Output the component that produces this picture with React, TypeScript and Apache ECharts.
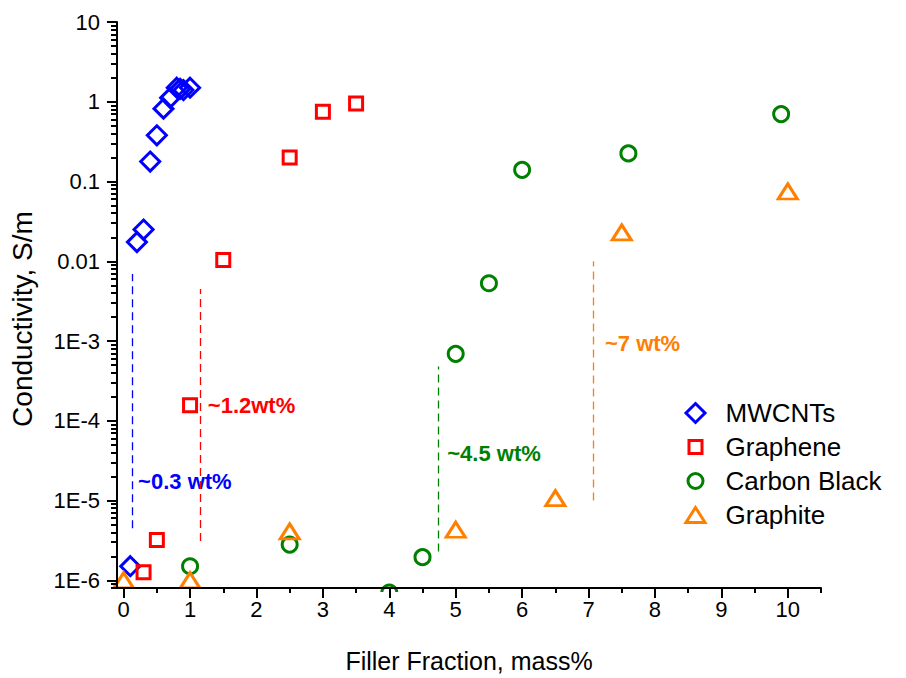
import React, { useEffect, useRef } from 'react';
import * as echarts from 'echarts';

const FONT = '"Liberation Sans", Arial, Helvetica, sans-serif';

// ---- data (x: mass%, y: conductivity S/m) ----
const mwcntX = [0.1, 0.2, 0.3, 0.4, 0.5, 0.6, 0.7, 0.8, 0.85, 0.9, 1.0];
const mwcntY = [1.5e-6, 0.0174, 0.025, 0.178, 0.38, 0.82, 1.12, 1.5, 1.45, 1.4, 1.5];

const grapheneX = [0.3, 0.5, 1.0, 1.5, 2.5, 3.0, 3.5];
const grapheneY = [1.26e-6, 3.2e-6, 1.57e-4, 0.0104, 0.2, 0.75, 0.95];

const carbonBlackX = [1.0, 2.5, 4.0, 4.5, 5.0, 5.5, 6.0, 7.6, 9.9];
const carbonBlackY = [1.5e-6, 2.8e-6, 7e-7, 1.95e-6, 6.9e-4, 5.3e-3, 0.14, 0.225, 0.7];

const graphiteX = [0, 1.0, 2.5, 5.0, 6.5, 7.5, 10];
const graphiteY = [1.0e-6, 1.0e-6, 4.1e-6, 4.3e-6, 1.07e-5, 0.023, 0.075];

// percolation threshold markers
const thrX = [0.13, 1.16, 4.74, 7.07];
const thrYLow = [4.5e-6, 3.1e-6, 2.3e-6, 1.0e-5];
const thrYHigh = [0.0069, 0.0045, 4.8e-4, 0.01];
const thrColors = ['#0000FF', '#FF0000', '#008000', '#FF8000'];

const annTexts = ['~0.3 wt%', '~1.2wt%', '~4.5 wt%', '~7 wt%'];
const annX = [0.21, 1.26, 4.865, 7.24];
const annY = [1.74e-5, 1.55e-4, 3.9e-5, 9.3e-4];

// axes
const xTicks = [0, 1, 2, 3, 4, 5, 6, 7, 8, 9, 10];
const xMinorTicks = [0.5, 1.5, 2.5, 3.5, 4.5, 5.5, 6.5, 7.5, 8.5, 9.5, 10.5];
const yTickValues = [1e-6, 1e-5, 1e-4, 1e-3, 0.01, 0.1, 1, 10];
const yTickLabels = ['1E-6', '1E-5', '1E-4', '1E-3', '0.01', '0.1', '1', '10'];
const X_MIN = -0.1;
const X_MAX = 10.5;
const Y_MIN_VAL = 8e-7;
const Y_MAX_VAL = 10;

const lg = (v: number) => Math.log10(v);

const Y_MIN = lg(Y_MIN_VAL);
const Y_MAX = lg(Y_MAX_VAL);

const yMinorTicks: number[] = [];
for (let n = -7; n <= 0; n++) {
  for (let k = 2; k <= 9; k++) {
    const v = lg(k) + n;
    if (v >= Y_MIN - 1e-9 && v <= Y_MAX + 1e-9) yMinorTicks.push(v);
  }
}

const ICON_DIAMOND = 'path://M0,0M22,22M11,1.5L20.5,11L11,20.5L1.5,11Z';
const ICON_SQUARE = 'path://M0,0M22,22M4.5,4.5L17.5,4.5L17.5,17.5L4.5,17.5Z';
const ICON_CIRCLE = 'path://M0,0M22,22M18.5,11A7.5,7.5,0,1,1,3.5,11A7.5,7.5,0,1,1,18.5,11Z';
const ICON_TRIANGLE = 'path://M0,0M22,22M11,3.5L20.5,18.5L1.5,18.5Z';

const axisLineStyle = { color: '#000', width: 2 };

function makeSeries(name: string, xs: number[], ys: number[], symbol: string, size: any, color: string) {
  return {
    name,
    type: 'scatter',
    symbol,
    symbolSize: size,
    clip: false,
    data: xs.map((x, i) => [x, lg(ys[i])]),
    itemStyle: { color: 'rgba(0,0,0,0)', borderColor: color, borderWidth: 3, opacity: 1 },
    emphasis: { disabled: true },
  };
}

export default function App() {
  const ref = useRef<HTMLDivElement>(null);

  useEffect(() => {
    if (!ref.current) return;
    const chart = echarts.init(ref.current, null, { renderer: 'svg' });

    const option: any = {
      animation: false,
      backgroundColor: '#fff',
      grid: { left: 115, right: 85, top: 22, bottom: 87, containLabel: false },
      xAxis: [
        {
          type: 'value',
          min: X_MIN,
          max: X_MAX,
          z: 10,
          axisLine: { show: true, onZero: false, lineStyle: axisLineStyle },
          axisTick: { show: true, customValues: xTicks, length: 10, lineStyle: axisLineStyle },
          axisLabel: {
            show: true,
            customValues: xTicks,
            margin: 10,
            fontSize: 22,
            color: '#000',
            fontFamily: FONT,
          },
          splitLine: { show: false },
          name: 'Filler Fraction, mass%',
          nameLocation: 'middle',
          nameGap: 60,
          nameTextStyle: { fontSize: 25, color: '#000', fontFamily: FONT },
        },
        {
          type: 'value',
          min: X_MIN,
          max: X_MAX,
          z: 10,
          position: 'bottom',
          axisLine: { show: false, onZero: false },
          axisTick: { show: true, customValues: xMinorTicks, length: 5, lineStyle: axisLineStyle },
          axisLabel: { show: false },
          splitLine: { show: false },
        },
      ],
      yAxis: [
        {
          type: 'value',
          min: Y_MIN,
          max: Y_MAX,
          z: 10,
          axisLine: { show: true, onZero: false, lineStyle: axisLineStyle },
          axisTick: { show: true, customValues: yTickValues.map(lg), length: 10, lineStyle: axisLineStyle },
          axisLabel: {
            show: true,
            customValues: yTickValues.map(lg),
            margin: 17,
            fontSize: 22,
            color: '#000',
            fontFamily: FONT,
            formatter: (v: number) => {
              const i = yTickValues.findIndex((t) => Math.abs(lg(t) - v) < 1e-6);
              return i >= 0 ? yTickLabels[i] : '';
            },
          },
          splitLine: { show: false },
          name: 'Conductivity, S/m',
          nameLocation: 'middle',
          nameGap: 81,
          nameTextStyle: { fontSize: 28, color: '#000', fontFamily: FONT, padding: [0, 28, 0, 0] },
        },
        {
          type: 'value',
          min: Y_MIN,
          max: Y_MAX,
          z: 10,
          position: 'left',
          axisLine: { show: false, onZero: false },
          axisTick: { show: true, customValues: yMinorTicks, length: 6, lineStyle: axisLineStyle },
          axisLabel: { show: false },
          splitLine: { show: false },
        },
      ],
      legend: {
        orient: 'vertical',
        left: 683,
        top: 398,
        padding: 0,
        itemGap: 4,
        itemWidth: 50,
        itemHeight: 22,
        selectedMode: false,
        itemStyle: { borderWidth: 3 },
        textStyle: { fontSize: 26, color: '#000', fontFamily: FONT, lineHeight: 30 },
        data: [
          { name: 'MWCNTs', icon: ICON_DIAMOND },
          { name: 'Graphene', icon: ICON_SQUARE },
          { name: 'Carbon Black', icon: ICON_CIRCLE },
          { name: 'Graphite', icon: ICON_TRIANGLE },
        ],
      },
      graphic: [
        {
          type: 'rect',
          z: 5,
          silent: true,
          shape: { x: 372, y: 592, width: 32, height: 14 },
          style: { fill: '#fff' },
        },
      ],
      series: [
        makeSeries('MWCNTs', mwcntX, mwcntY, 'diamond', 19, '#0000FF'),
        makeSeries('Graphene', grapheneX, grapheneY, 'rect', 13, '#FF0000'),
        makeSeries('Carbon Black', carbonBlackX, carbonBlackY, 'circle', 15, '#008000'),
        makeSeries('Graphite', graphiteX, graphiteY, 'triangle', [19, 15], '#FF8000'),
        {
          name: 'annotations',
          type: 'scatter',
          symbolSize: 1,
          silent: true,
          emphasis: { disabled: true },
          itemStyle: { color: 'rgba(0,0,0,0)', opacity: 1 },
          data: annTexts.map((t, i) => ({
            name: t,
            value: [annX[i], lg(annY[i])],
            label: { color: thrColors[i] },
          })),
          label: {
            show: true,
            position: 'right',
            distance: 0,
            formatter: '{b}',
            fontSize: 22,
            fontWeight: 'bold',
            fontFamily: FONT,
            opacity: 1,
          },
          markLine: {
            silent: true,
            symbol: ['none', 'none'],
            label: { show: false },
            data: thrX.map((x, i) => [
              {
                coord: [x, lg(thrYLow[i])],
                lineStyle: { color: thrColors[i], type: [8, 5], width: 1.3, opacity: 1 },
              },
              { coord: [x, lg(thrYHigh[i])] },
            ]),
          },
        },
      ],
    };

    chart.setOption(option);
    return () => {
      chart.dispose();
    };
  }, []);

  return (
    <div
      ref={ref}
      style={{ position: 'fixed', left: 0, top: 0, width: 906, height: 678, background: '#fff' }}
    />
  );
}
